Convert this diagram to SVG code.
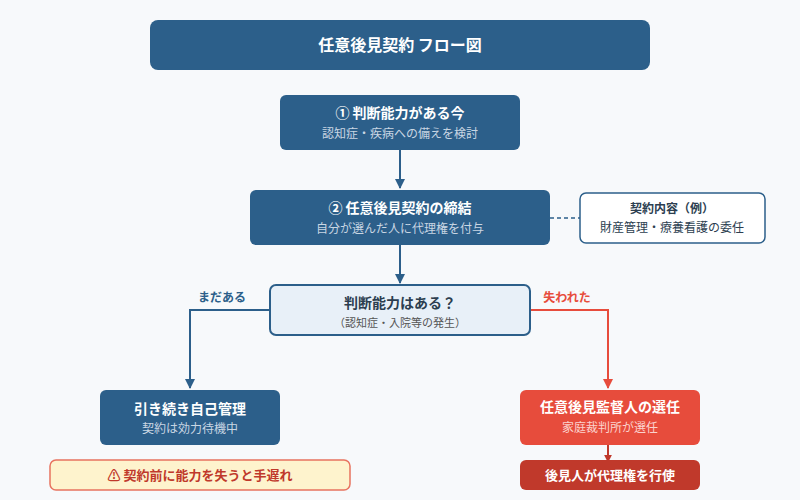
<svg xmlns="http://www.w3.org/2000/svg" width="800" height="500" viewBox="0 0 800 500">
<defs>
<marker id="ab" viewBox="0 0 10 10" refX="9" refY="5" markerWidth="5" markerHeight="5" orient="auto"><path d="M0,0L10,5L0,10z" fill="#2c5f8a"/></marker>
<marker id="ar" viewBox="0 0 10 10" refX="9" refY="5" markerWidth="5" markerHeight="5" orient="auto"><path d="M0,0L10,5L0,10z" fill="#e74c3c"/></marker>
<marker id="ad" viewBox="0 0 10 10" refX="9" refY="5" markerWidth="4" markerHeight="4" orient="auto"><path d="M0,0L10,5L0,10z" fill="#c0392b"/></marker>
</defs>
<style>
text{font-family:"Noto Sans CJK JP","Noto Sans",sans-serif;text-anchor:middle}
.t{fill:#fff;font-weight:bold;font-size:14px}
.s{fill:#c9d6e3;font-size:12px}
.dk{fill:#2c5f8a}
</style>
<rect width="800" height="500" fill="#f7f9fb"/>
<g id="connectors" fill="none" stroke-width="2">
<line x1="400" y1="150" x2="400" y2="188" stroke="#2c5f8a" marker-end="url(#ab)"/>
<line x1="400" y1="245" x2="400" y2="283" stroke="#2c5f8a" marker-end="url(#ab)"/>
<line x1="550" y1="218" x2="580" y2="218" stroke="#2c5f8a" stroke-dasharray="4,3" stroke-width="1.5"/>
<path d="M270,310H190V388" stroke="#2c5f8a" marker-end="url(#ab)"/>
<path d="M530,310H608V388" stroke="#e74c3c" marker-end="url(#ar)"/>
<line x1="608" y1="445" x2="608" y2="462" stroke="#c0392b" marker-end="url(#ad)"/>
<text x="222" y="302" font-size="12" font-weight="bold" fill="#2c5f8a" stroke="none">まだある</text>
<text x="567" y="302" font-size="12" font-weight="bold" fill="#e74c3c" stroke="none">失われた</text>
</g>
<g id="title"><rect x="150" y="20" width="500" height="50" rx="8" class="dk"/><text x="400" y="51" fill="#fff" font-size="16" font-weight="bold">任意後見契約 フロー図</text></g>
<g id="step1"><rect x="280" y="95" width="240" height="55" rx="6" class="dk"/><text x="400" y="118" class="t">① 判断能力がある今</text><text x="400" y="138" class="s">認知症・疾病への備えを検討</text></g>
<g id="step2"><rect x="250" y="190" width="300" height="55" rx="6" class="dk"/><text x="400" y="213" class="t">② 任意後見契約の締結</text><text x="400" y="233" class="s">自分が選んだ人に代理権を付与</text></g>
<g id="note"><rect x="580" y="193" width="185" height="50" rx="6" fill="#fff" stroke="#2c5f8a" stroke-width="1.5"/><text x="672" y="213" font-size="12" font-weight="bold" fill="#2c3e50">契約内容（例）</text><text x="672" y="232" font-size="12" fill="#2c3e50">財産管理・療養看護の委任</text></g>
<g id="decision"><rect x="270" y="285" width="260" height="50" rx="6" fill="#e8f0f8" stroke="#2c5f8a" stroke-width="2"/><text x="400" y="308" font-size="14" font-weight="bold" fill="#2c3e50">判断能力はある？</text><text x="400" y="327" font-size="11" fill="#555">（認知症・入院等の発生）</text></g>
<g id="self"><rect x="100" y="390" width="180" height="55" rx="6" class="dk"/><text x="190" y="414" class="t">引き続き自己管理</text><text x="190" y="433" class="s">契約は効力待機中</text></g>
<g id="supervisor"><rect x="520" y="390" width="180" height="55" rx="6" fill="#e74c3c"/><text x="610" y="412" class="t">任意後見監督人の選任</text><text x="610" y="432" font-size="12" fill="#fbd3ce">家庭裁判所が選任</text></g>
<g id="agent"><rect x="520" y="460" width="180" height="30" rx="6" fill="#c0392b"/><text x="610" y="480" fill="#fff" font-size="13" font-weight="bold">後見人が代理権を行使</text></g>
<g id="warning"><rect x="50" y="460" width="300" height="30" rx="6" fill="#fef3cd" stroke="#e8735f" stroke-width="1.5"/><text x="200" y="480" fill="#c0392b" font-size="13" font-weight="bold">⚠ 契約前に能力を失うと手遅れ</text></g>
</svg>
